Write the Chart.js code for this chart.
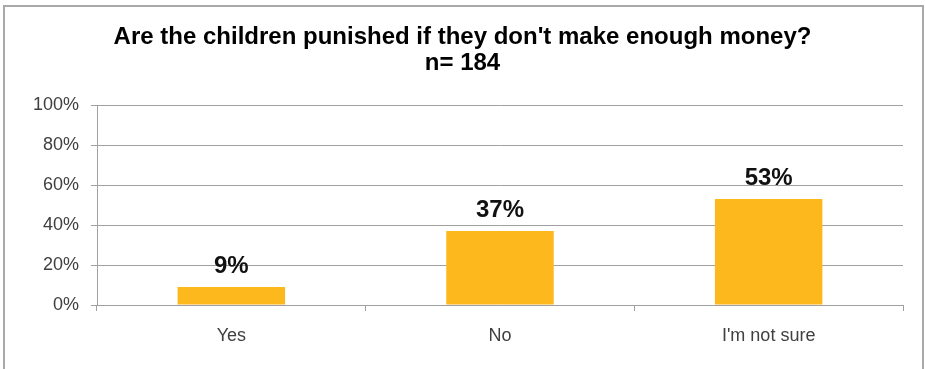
<!DOCTYPE html>
<html>
<head>
<meta charset="utf-8">
<script src="https://cdn.jsdelivr.net/npm/chart.js@4/dist/chart.umd.min.js"></script>
<style>
  html, body { margin: 0; padding: 0; background: #fff; }
  #wrap { width: 925px; height: 369px; position: relative; }
</style>
</head>
<body>
<div id="wrap"><canvas id="chart" width="925" height="369"></canvas></div>
<script>
// Chart data
const titleLines = ["Are the children punished if they don't make enough money?", 'n= 184'];
const categories = ['Yes', 'No', "I'm not sure"];
const percents = [9, 37, 53];
const yTicks = [0, 20, 40, 60, 80, 100];

const FONT = "'Liberation Sans', Arial, sans-serif";

// Frame around the whole chart (open at the bottom, like the screenshot)
const framePlugin = {
    id: 'frame',
    beforeDraw(chart) {
        const ctx = chart.ctx;
        ctx.save();
        ctx.strokeStyle = '#a9a9a9';
        ctx.lineWidth = 2;
        ctx.strokeRect(4, 6, 919, 380);
        ctx.restore();
    }
};

// Two-line title centred on the whole chart box
const titlePlugin = {
    id: 'bigTitle',
    afterDraw(chart) {
        const ctx = chart.ctx;
        ctx.save();
        ctx.font = 'bold 24px ' + FONT;
        ctx.fillStyle = '#000';
        ctx.textAlign = 'center';
        ctx.textBaseline = 'alphabetic';
        titleLines.forEach((line, i) => {
            ctx.fillText(line, chart.width / 2, 44 + i * 26);
        });
        ctx.restore();
    }
};

// Bold value labels above bars
const valueLabels = {
    id: 'valueLabels',
    afterDatasetsDraw(chart) {
        const ctx = chart.ctx;
        const meta = chart.getDatasetMeta(0);
        ctx.save();
        ctx.font = 'bold 24px ' + FONT;
        ctx.fillStyle = '#111';
        ctx.textAlign = 'center';
        ctx.textBaseline = 'alphabetic';
        meta.data.forEach((bar, i) => {
            ctx.fillText(percents[i] + '%', bar.x, bar.y - 14);
        });
        ctx.restore();
    }
};

new Chart(document.getElementById('chart'), {
    type: 'bar',
    data: {
        labels: categories,
        datasets: [{
            data: percents,
            backgroundColor: '#fdb81e',
            borderWidth: 0,
            categoryPercentage: 1,
            barPercentage: 0.4
        }]
    },
    options: {
        responsive: false,
        animation: false,
        layout: { padding: { left: 0, right: 22, top: 105, bottom: 0 } },
        plugins: {
            legend: { display: false },
            tooltip: { enabled: false },
            title: { display: false }
        },
        scales: {
            y: {
                min: 0,
                max: 100,
                afterFit(scale) { scale.width = 97; },
                afterBuildTicks(scale) { scale.ticks = yTicks.map(v => ({ value: v })); },
                border: { color: '#a0a0a0', width: 1 },
                grid: { color: '#a0a0a0', lineWidth: 1, tickLength: 6 },
                ticks: {
                    color: '#404040',
                    padding: 12,
                    font: { family: FONT, size: 18 },
                    callback: v => v + '%'
                }
            },
            x: {
                afterFit(scale) { scale.height = 64; },
                border: { color: '#a0a0a0', width: 1 },
                grid: { offset: true, drawOnChartArea: false, color: '#a0a0a0', tickLength: 6 },
                ticks: {
                    color: '#404040',
                    padding: 14,
                    font: { family: FONT, size: 18 }
                }
            }
        }
    },
    plugins: [framePlugin, titlePlugin, valueLabels]
});
</script>
</body>
</html>
